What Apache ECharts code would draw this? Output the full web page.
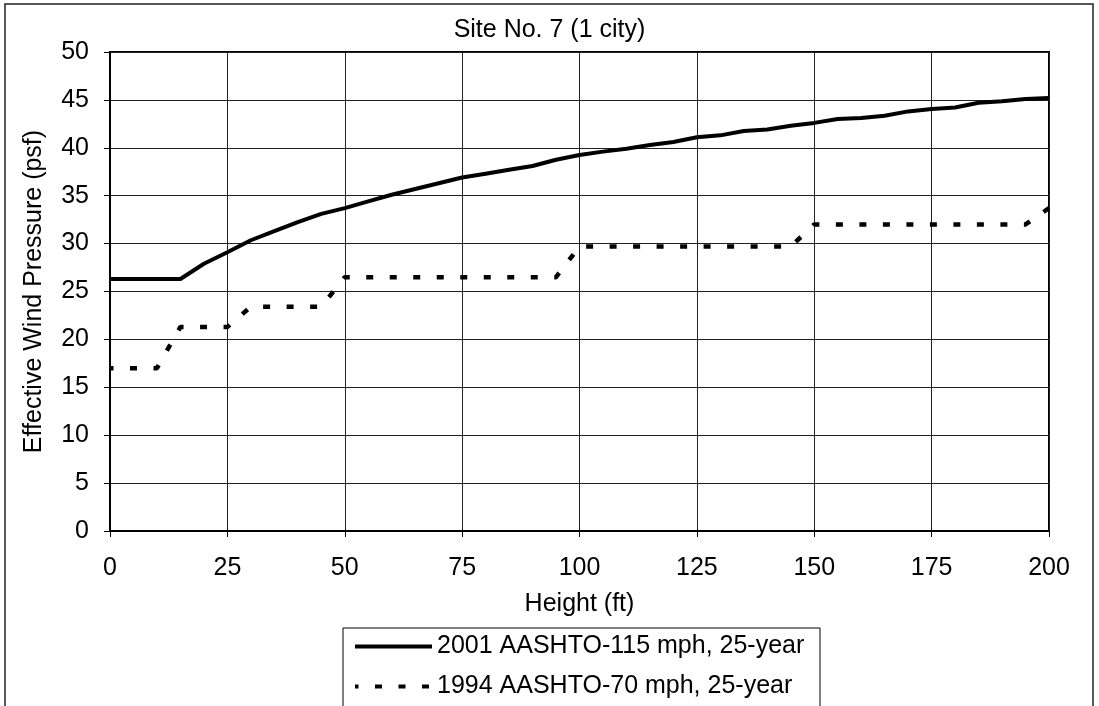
<!DOCTYPE html>
<html>
<head>
<meta charset="utf-8">
<script src="https://cdn.jsdelivr.net/npm/echarts@6/dist/echarts.min.js"></script>
<style>
html,body{margin:0;padding:0;background:#fff;}
#chart{width:1099px;height:706px;}
</style>
</head>
<body>
<div id="chart"></div>
<script>
const heights = [0,5,10,15,20,25,30,35,40,45,50,55,60,65,70,75,80,85,90,95,100,105,110,115,120,125,130,135,140,145,150,155,160,165,170,175,180,185,190,195,200];
const aashto2001 = [26.3,26.3,26.3,26.3,27.9,29.1,30.35,31.3,32.25,33.1,33.7,34.4,35.1,35.7,36.3,36.9,37.3,37.7,38.1,38.75,39.25,39.6,39.9,40.3,40.6,41.1,41.3,41.75,41.9,42.3,42.6,43.0,43.1,43.35,43.8,44.05,44.2,44.7,44.85,45.1,45.2];
const aashto1994 = [17.0,17.0,17.0,21.3,21.3,21.3,23.4,23.4,23.4,23.4,26.5,26.5,26.5,26.5,26.5,26.5,26.5,26.5,26.5,26.5,29.7,29.7,29.7,29.7,29.7,29.7,29.7,29.7,29.7,29.7,32.0,32.0,32.0,32.0,32.0,32.0,32.0,32.0,32.0,32.0,33.7];
const seriesNames = ['2001 AASHTO-115 mph, 25-year','1994 AASHTO-70 mph, 25-year'];
const titleText = 'Site No. 7 (1 city)';
const xName = 'Height (ft)';
const yName = 'Effective Wind Pressure (psf)';

const font = 'Liberation Sans, Arial, sans-serif';
const fs = 25;
const chart = echarts.init(document.getElementById('chart'));
const pair = (xs, ys) => xs.map((x, i) => [x, ys[i]]);

chart.setOption({
  animation: false,
  backgroundColor: '#fff',
  title: {
    text: titleText, left: 'center', top: 18, padding: 0,
    textStyle: {fontFamily: font, fontSize: fs, fontWeight: 'normal', color: '#000'}
  },
  grid: {left: 110, right: 50, top: 52, bottom: 175, show: true, borderColor: '#000', borderWidth: 2, backgroundColor: 'transparent'},
  xAxis: {
    type: 'value', min: 0, max: 200, interval: 25,
    name: xName, nameLocation: 'middle', nameGap: 61,
    nameTextStyle: {fontFamily: font, fontSize: fs, color: '#000'},
    axisLine: {show: true, lineStyle: {color: '#000', width: 2}},
    axisTick: {show: true, length: 6, lineStyle: {color: '#000', width: 1}},
    axisLabel: {fontFamily: font, fontSize: fs, color: '#000', margin: 25},
    splitLine: {show: true, lineStyle: {color: '#222', width: 1}}
  },
  yAxis: {
    type: 'value', min: 0, max: 50, interval: 5,
    name: yName, nameLocation: 'middle', nameGap: 63,
    nameTextStyle: {fontFamily: font, fontSize: fs, color: '#000'},
    axisLine: {show: true, lineStyle: {color: '#000', width: 2}},
    axisTick: {show: true, length: 6, lineStyle: {color: '#000', width: 1}},
    axisLabel: {fontFamily: font, fontSize: fs, color: '#000', margin: 21},
    splitLine: {show: true, lineStyle: {color: '#222', width: 1}}
  },
  legend: {
    orient: 'vertical', left: 353, top: 634,
    padding: 0, itemGap: 15,
    itemWidth: 77, itemHeight: 14,
    itemStyle: {opacity: 0},
    lineStyle: {width: 4},
    textStyle: {fontFamily: font, fontSize: fs, color: '#000'},
    data: seriesNames
  },
  series: [
    {
      name: seriesNames[0], type: 'line', data: pair(heights, aashto2001),
      symbol: 'none', showSymbol: false,
      lineStyle: {color: '#000', width: 4},
      itemStyle: {color: '#000'}
    },
    {
      name: seriesNames[1], type: 'line', data: pair(heights, aashto1994),
      symbol: 'none', showSymbol: false,
      lineStyle: {color: '#000', width: 4.5, type: [7, 16.5], dashOffset: 3.5},
      itemStyle: {color: '#000'}
    }
  ],
  graphic: [
    {
      type: 'rect', silent: true, z: -1,
      shape: {x: 343, y: 628, width: 477, height: 120},
      style: {fill: '#fff', stroke: '#000', lineWidth: 1}
    },
    {
      type: 'rect', silent: true, z: 100,
      shape: {x: 5, y: 4, width: 1088, height: 740},
      style: {fill: 'none', stroke: '#222', lineWidth: 1.5}
    }
  ]
});
</script>
</body>
</html>
